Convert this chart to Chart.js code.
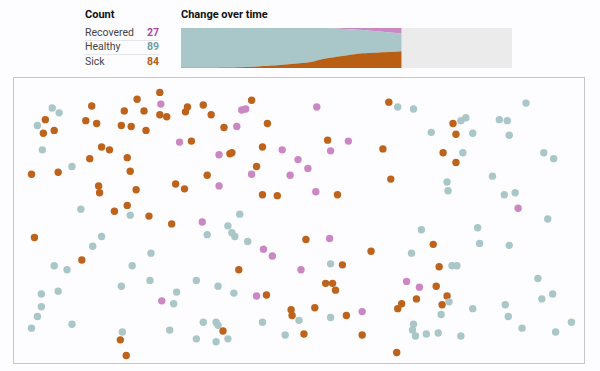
<!DOCTYPE html>
<html>
<head>
<meta charset="utf-8">
<script src="https://cdn.jsdelivr.net/npm/chart.js@4/dist/chart.umd.min.js"></script>
<style>
  html, body { margin: 0; padding: 0; background: #fdfcfe; }
  body { width: 600px; height: 371px; position: relative; overflow: hidden; font-family: Roboto, "Liberation Sans", sans-serif; }
  .t { position: absolute; white-space: nowrap; }
  .head { font-size: 11px; font-weight: 700; line-height: 12px; color: #111; }
  .lab { font-size: 10.5px; line-height: 12px; color: #444; left: 85px; }
  .num { font-size: 10.5px; line-height: 12px; font-weight: 700; right: 441px; text-align: right; }
  .sep { position: absolute; left: 84px; width: 75px; height: 1px; background: #e6e6e6; }
  #areaChart { position: absolute; left: 181px; top: 28px; }
  #dotChart { position: absolute; left: 13px; top: 77px; }
</style>
</head>
<body>
<div class="t head" style="left:85px; top:9px;">Count</div>
<div class="t head" style="left:181px; top:9px;">Change over time</div>
<div id="countRows"></div>
<canvas id="areaChart" width="331" height="40"></canvas>
<canvas id="dotChart" width="572" height="287"></canvas>
<script>
// counts in the legend
const countLabels = ["Recovered", "Healthy", "Sick"];
const countValues = [27, 89, 84];
const countColors = ["#a94aa0", "#6f9fa3", "#b35f12"];

// change over time (people out of 200, per time step)
const timeSteps = [0, 1, 2, 3, 4, 5, 6, 7, 8, 9, 10, 11, 12, 13, 14, 15, 16, 17, 18, 19, 20];
const sickSeries = [1, 1, 1, 1, 2, 3, 5, 8, 11, 15, 20, 25, 33, 46, 55, 62, 71, 75, 78, 80, 84];
const healthySeries = [199, 199, 199, 199, 198, 197, 195, 192, 189, 185, 180, 175, 167, 154, 143, 133, 120, 113, 105, 98, 89];
const recoveredSeries = [0, 0, 0, 0, 0, 0, 0, 0, 0, 0, 0, 0, 0, 0, 2, 5, 9, 12, 17, 22, 27];

// dot positions in the simulation box
const sickDots = [
  [76,26],[70,41],[81,44],[86,68],[94,71],[74,80],[83,108],[84,115],[99,134],[112,128],
  [134,139],[121,112],[115,93],[112,79],[106,46],[116,47],[131,51],[109,31],[122,19],[129,31],
  [145,12],[145,35],[29,40],[27,54],[38,51],[15,96],[42,94],[152,37],[173,27],[171,32],
  [189,25],[197,35],[238,20],[210,48],[254,44],[177,62],[216,75],[218,74],[249,68],[243,88],
  [193,97],[161,106],[170,111],[249,117],[264,118],[377,22],[442,44],[445,55],[315,61],[371,70],
  [432,74],[445,84],[379,101],[325,117],[18,161],[66,184],[105,266],[111,282],[157,147],[293,163],
  [225,194],[253,220],[278,235],[279,241],[209,257],[291,260],[359,175],[422,168],[330,189],[428,191],
  [313,208],[320,208],[323,215],[425,211],[405,224],[436,221],[431,230],[390,229],[386,234],[302,233],
  [334,241],[350,261],[385,279]
];
const recoveredDots = [
  [146,24],[228,30],[232,29],[223,47],[165,63],[205,76],[269,71],[285,81],[295,90],[238,96],
  [277,97],[205,108],[304,27],[336,62],[318,72],[303,114],[508,131],[147,226],[188,145],[250,173],
  [259,180],[288,194],[243,221],[317,162],[395,206],[408,212],[350,237]
];
const healthyDots = [
  [36,28],[43,33],[21,46],[26,71],[56,88],[65,132],[115,138],[226,137],[386,27],[402,29],
  [420,53],[436,104],[437,113],[450,41],[455,38],[462,54],[516,23],[489,40],[497,41],[499,56],
  [452,74],[534,74],[544,80],[482,98],[494,117],[505,115],[538,142],[86,160],[77,170],[136,177],
  [38,190],[51,194],[117,190],[135,205],[106,211],[25,219],[42,216],[25,232],[21,242],[15,254],
  [56,250],[107,258],[214,149],[193,158],[218,156],[221,160],[234,165],[182,205],[204,211],[162,217],
  [220,218],[159,229],[286,246],[189,248],[202,248],[204,251],[249,248],[155,256],[272,261],[182,265],
  [202,268],[214,265],[410,153],[400,177],[318,188],[441,190],[446,190],[318,243],[430,240],[438,227],
  [402,250],[401,256],[404,262],[415,260],[427,259],[467,151],[469,167],[499,169],[528,203],[462,234],
  [495,230],[498,242],[532,224],[543,219],[562,248],[512,254],[546,258],[450,262]
];

const sickColor = "#bd631b";
const healthyColor = "#a9c6c8";
const recoveredColor = "#cb87c3";

// legend rows
const rows = document.getElementById('countRows');
countLabels.forEach((name, i) => {
  const top = 27 + i * 14.3;
  rows.insertAdjacentHTML('beforeend',
    `<div class="t lab" style="top:${top}px">${name}</div>` +
    `<div class="t num" style="top:${top}px;color:${countColors[i]}">${countValues[i]}</div>`);
  if (i < countLabels.length - 1) {
    rows.insertAdjacentHTML('beforeend', `<div class="sep" style="top:${Math.round(top + 13)}px"></div>`);
  }
});

const toPoints = arr => arr.map(p => ({ x: p[0], y: p[1] }));
const toSeries = vals => timeSteps.map((t, i) => ({ x: t, y: vals[i] }));

const greyBackground = {
  id: 'greyBackground',
  beforeDraw(chart) {
    const { ctx, chartArea } = chart;
    ctx.save();
    ctx.fillStyle = '#ebebeb';
    ctx.fillRect(chartArea.left, chartArea.top, chartArea.width, chartArea.height);
    ctx.restore();
  }
};

new Chart(document.getElementById('areaChart'), {
  type: 'line',
  data: {
    datasets: [
      { label: 'Sick', data: toSeries(sickSeries), backgroundColor: '#b85f14', fill: 'origin' },
      { label: 'Healthy', data: toSeries(healthySeries), backgroundColor: healthyColor, fill: '-1' },
      { label: 'Recovered', data: toSeries(recoveredSeries), backgroundColor: recoveredColor, fill: '-1' }
    ]
  },
  options: {
    responsive: false,
    animation: false,
    layout: { padding: 0 },
    elements: { point: { radius: 0 }, line: { borderWidth: 0, tension: 0.3 } },
    plugins: { legend: { display: false }, tooltip: { enabled: false } },
    scales: {
      x: { type: 'linear', min: 0, max: 30, display: false },
      y: { stacked: true, min: 0, max: 200, display: false }
    }
  },
  plugins: [greyBackground]
});

const boxBorder = {
  id: 'boxBorder',
  beforeDatasetsDraw(chart) {
    const { ctx, width, height } = chart;
    ctx.save();
    ctx.strokeStyle = '#c6c6c6';
    ctx.lineWidth = 1;
    ctx.strokeRect(0.5, 0.5, width - 1, height - 1);
    ctx.restore();
  }
};

new Chart(document.getElementById('dotChart'), {
  type: 'scatter',
  data: {
    datasets: [
      { label: 'Healthy', data: toPoints(healthyDots), backgroundColor: healthyColor },
      { label: 'Recovered', data: toPoints(recoveredDots), backgroundColor: recoveredColor },
      { label: 'Sick', data: toPoints(sickDots), backgroundColor: sickColor }
    ]
  },
  options: {
    responsive: false,
    animation: false,
    layout: { padding: 0 },
    elements: { point: { radius: 3.7, borderWidth: 0, hoverRadius: 3.7 } },
    plugins: { legend: { display: false }, tooltip: { enabled: false } },
    scales: {
      x: { type: 'linear', min: 0, max: 572, display: false },
      y: { type: 'linear', min: 0, max: 287, reverse: true, display: false }
    }
  },
  plugins: [boxBorder]
});
</script>
</body>
</html>
